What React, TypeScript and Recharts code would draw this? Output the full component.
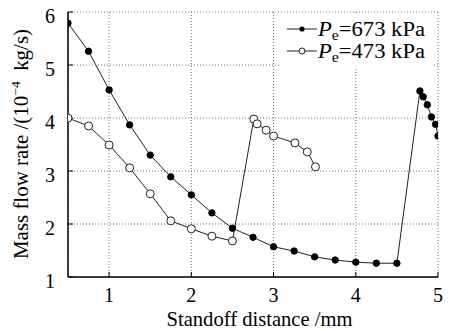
import React from "react"
import { LineChart, Line, XAxis, YAxis, CartesianGrid } from "recharts"

// Pe = 673 kPa (filled markers)
const highX = [0.5, 0.75, 1, 1.25, 1.5, 1.75, 2, 2.25, 2.5, 2.75, 3, 3.25, 3.5, 3.75, 4, 4.25, 4.5, 4.78, 4.82, 4.87, 4.92, 4.97, 5.0]
const highY = [5.79, 5.26, 4.53, 3.87, 3.3, 2.89, 2.55, 2.21, 1.92, 1.75, 1.57, 1.49, 1.38, 1.32, 1.28, 1.26, 1.26, 4.51, 4.4, 4.25, 4.02, 3.88, 3.66]

// Pe = 473 kPa (open markers)
const lowX = [0.5, 0.75, 1, 1.25, 1.5, 1.75, 2, 2.25, 2.5, 2.76, 2.8, 2.91, 3, 3.26, 3.41, 3.51]
const lowY = [4.0, 3.85, 3.49, 3.06, 2.57, 2.06, 1.91, 1.77, 1.68, 3.98, 3.89, 3.77, 3.66, 3.53, 3.36, 3.08]

const xTicks = [1, 2, 3, 4, 5]
const yTicks = [1, 2, 3, 4, 5, 6]
const seriesNames = ["673 kPa", "473 kPa"]

const FONT = "'Liberation Serif', 'Times New Roman', serif"

const highData = highX.map((x, i) => ({ x, y: highY[i] }))
const lowData = lowX.map((x, i) => ({ x, y: lowY[i] }))

const XTick = ({ x, y, payload }: any) => (
    <text x={x} y={y + 30} textAnchor="middle" fontFamily={FONT} fontSize={20} fill="#000">{payload.value}</text>
)

const YTick = ({ x, y, payload }: any) => (
    <text x={x} y={y + 11} textAnchor="end" fontFamily={FONT} fontSize={20} fill="#000">{payload.value}</text>
)

const XTitle = () => (
    <text x={259.5} y={326} textAnchor="middle" fontFamily={FONT} fontSize={21} fill="#000"
        textLength={186} lengthAdjust="spacingAndGlyphs">
        Standoff distance /mm
    </text>
)

const YTitle = () => (
    <text transform="translate(28,144) rotate(-90)" textAnchor="middle" fontFamily={FONT} fontSize={20} fill="#000"
        textLength={230} lengthAdjust="spacingAndGlyphs">
        Mass flow rate /(10
        <tspan fontSize={13} dy={-8}>−4</tspan>
        <tspan dy={8}>{"\u00a0 kg/s)"}</tspan>
    </text>
)

// legend sits on a white patch inside the plot, leaving the right-hand ticks visible
function LegendBox() {
    return (
        <svg width={152} height={56} style={{ position: "absolute", left: 281, top: 13, background: "#fff" }}>
            {seriesNames.map((name, i) => {
                const cy = 16 + i * 22
                return (
                    <g key={name}>
                        <line x1={6} x2={36} y1={cy} y2={cy} stroke="#222" strokeWidth={1} />
                        {i === 0
                            ? <circle cx={21} cy={cy} r={2.6} fill="#000" />
                            : <circle cx={21} cy={cy} r={3} fill="#fff" stroke="#222" strokeWidth={1} />}
                        <text x={37} y={cy + 7} fontFamily={FONT} fontSize={20} fill="#000"
                            textLength={107} lengthAdjust="spacingAndGlyphs">
                            <tspan fontStyle="italic">P</tspan>
                            <tspan fontSize={14} dy={4}>e</tspan>
                            <tspan dy={-4}>={name}</tspan>
                        </text>
                    </g>
                )
            })}
        </svg>
    )
}

export default function App() {
    const axisLine = { stroke: "#000", strokeWidth: 1.5 }
    const tickLine = { stroke: "#000", strokeWidth: 1 }

    return (
        <div style={{ position: "relative", width: 454, height: 331, background: "#fff" }}>
            <style>{`body{margin:0}`}</style>
            <LineChart width={454} height={331} data={highData} margin={{ top: 12, right: 16, left: 0, bottom: 0 }}>
                <CartesianGrid stroke="#777" strokeDasharray="1 2" />
                <XAxis type="number" dataKey="x" domain={[0.5, 5]} ticks={xTicks} allowDataOverflow
                    height={54} tickSize={-5} tickMargin={0} axisLine={axisLine} tickLine={tickLine} tick={<XTick />}
                    label={{ content: () => <XTitle /> }} />
                <XAxis xAxisId="top" orientation="top" type="number" dataKey="x" domain={[0.5, 5]} ticks={xTicks}
                    allowDataOverflow height={0} tickSize={-5} axisLine={axisLine} tickLine={tickLine} tick={false} />
                <YAxis type="number" domain={[1, 6]} ticks={yTicks} allowDataOverflow width={68}
                    tickSize={-5} tickMargin={18} axisLine={axisLine} tickLine={tickLine} tick={<YTick />}
                    label={{ content: () => <YTitle /> }} />
                <YAxis yAxisId="right" orientation="right" type="number" domain={[1, 6]} ticks={yTicks}
                    allowDataOverflow width={0} tickSize={-5} axisLine={axisLine} tickLine={tickLine} tick={false} />
                <Line data={highData} dataKey="y" stroke="#222" strokeWidth={1} isAnimationActive={false}
                    dot={{ r: 3.2, fill: "#000", stroke: "#000", strokeWidth: 1 }} />
                <Line data={lowData} dataKey="y" stroke="#222" strokeWidth={1} isAnimationActive={false}
                    dot={{ r: 4, fill: "#fff", stroke: "#222", strokeWidth: 1 }} />
            </LineChart>
            <LegendBox />
        </div>
    )
}
